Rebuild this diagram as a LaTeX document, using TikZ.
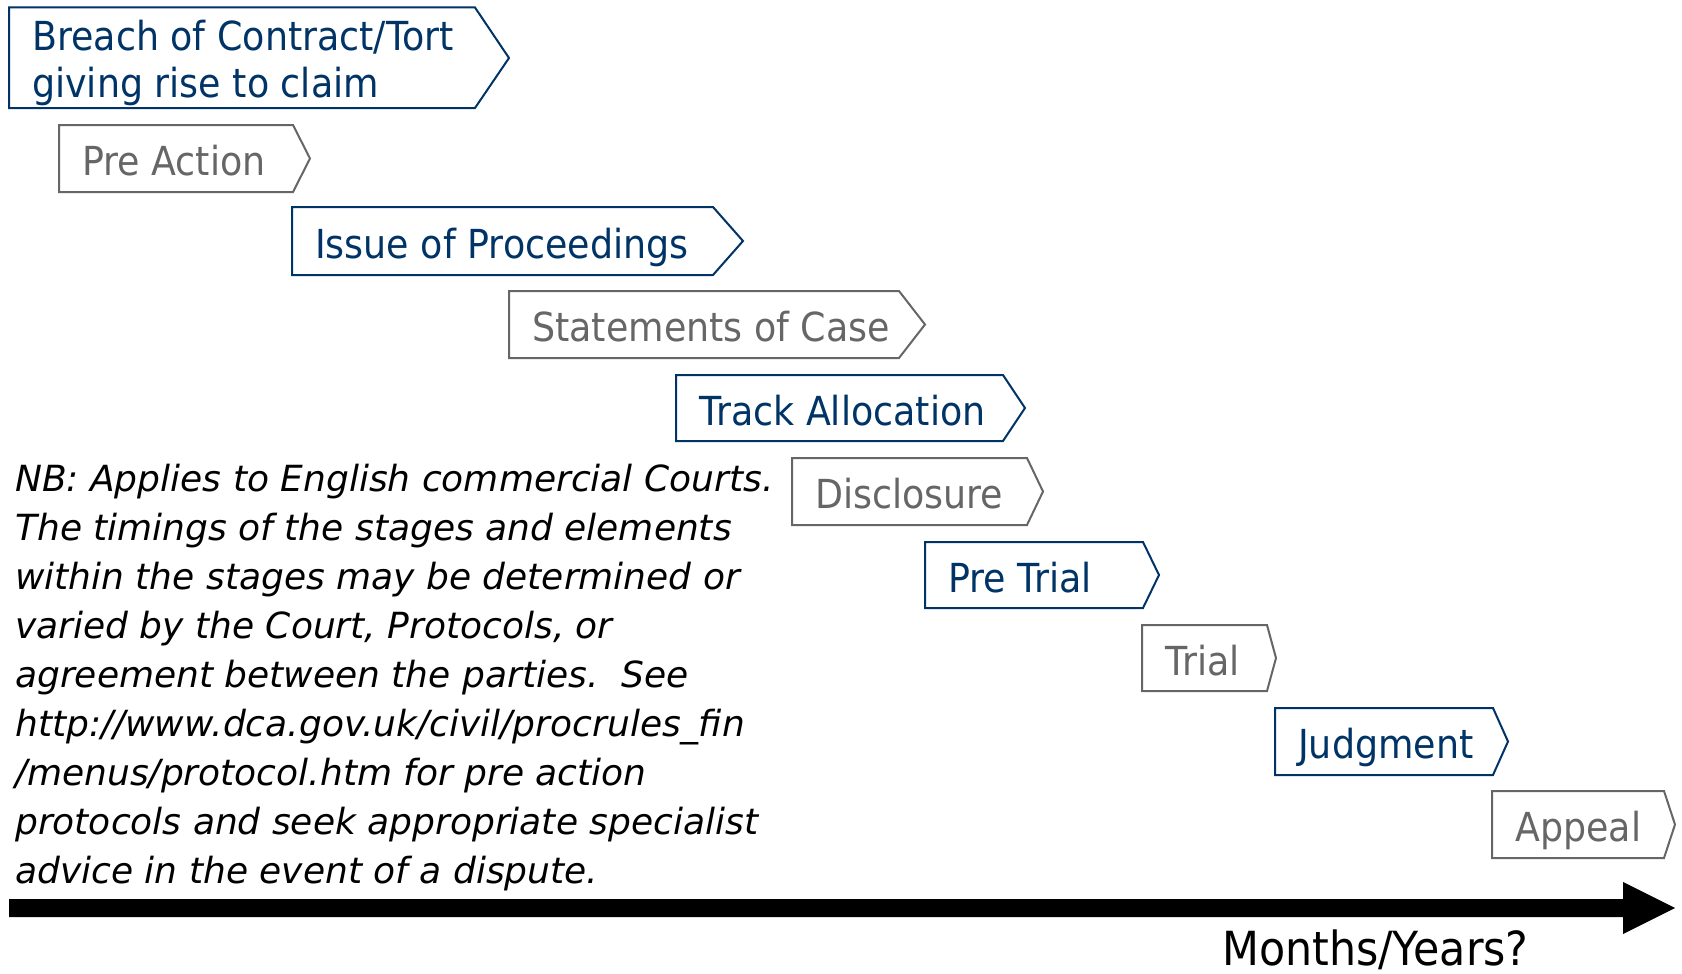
\documentclass[tikz,border=0pt]{standalone}
\usepackage{fontspec}
\usetikzlibrary{calc}
\newfontfamily\tahlike[FakeStretch=0.91]{DejaVu Sans}
\newfontfamily\notefont{DejaVu Sans}
\definecolor{navy}{HTML}{003366}
\definecolor{slate}{HTML}{666666}

% one stage of the timeline: outline pentagon plus its label
% #1 name, #2 colour set (blue/grey), #3 left, #4 top, #5 end of flat part, #6 tip, #7 bottom, #8 label
\newcommand{\stage}[8]{%
  \draw[#2box] (#3,#4) -- (#5,#4) -- (#6,{(#4+#7)/2}) -- (#5,#7) -- (#3,#7) -- cycle;
  \node[#2txt] (#1) at ({#3+23},{(#4+#7)/2+17}) {#8};
}

\begin{document}
\begin{tikzpicture}[x=1pt,y=-1pt,
  outline/.style={line width=2pt,line join=miter},
  bluebox/.style={outline,draw=navy},
  greybox/.style={outline,draw=slate},
  labeltext/.style={anchor=base west,inner sep=0pt,font=\tahlike\fontsize{40}{47}\selectfont},
  bluetxt/.style={labeltext,text=navy},
  greytxt/.style={labeltext,text=slate}]
\useasboundingbox (0,0) rectangle (1682,974);

% first stage, two lines of text (base anchor sits on the last line)
\draw[bluebox] (9,7.5) -- (475,7.5) -- (509,58) -- (475,108) -- (9,108) -- cycle;
\node[bluetxt,align=left] (breach) at (32,97) {Breach of Contract/Tort\\giving rise to claim};

\stage{preaction}{grey}{59}{125}{293}{310}{192}{Pre Action}
\stage{issue}{blue}{292}{207}{713}{743}{275}{Issue of Proceedings}
\stage{statements}{grey}{509}{291}{899}{925}{358}{Statements of Case}
\stage{track}{blue}{676}{375}{1003}{1025}{441}{Track Allocation}
\stage{disclosure}{grey}{792}{458}{1027}{1043}{525}{Disclosure}
\stage{pretrial}{blue}{925}{542}{1143}{1159}{608}{Pre Trial}
\stage{trial}{grey}{1142}{625}{1267}{1276}{691}{Trial}
\stage{judgment}{blue}{1275}{708}{1493}{1508}{775}{Judgment}
\stage{appeal}{grey}{1492}{791}{1664}{1675}{858}{Appeal}

% explanatory note
\node[anchor=north west,inner sep=0pt,align=left,
      font=\notefont\itshape\fontsize{36}{49}\selectfont] (note) at (15,463.5)
 {NB: Applies to English commercial Courts.\\
  The timings of the stages and elements\\
  within the stages may be determined or\\
  varied by the Court, Protocols, or\\
  agreement between the parties.\ \ See\\
  http://www.dca.gov.uk/civil/procrules\_fin\\
  /menus/protocol.htm for pre action\\
  protocols and seek appropriate specialist\\
  advice in the event of a dispute.};

% time axis
\coordinate (t0) at (9,908);
\coordinate (t1) at (1675,908);
\fill[black] ($(t0)+(0,-9)$) -- ($(t1)+(-52,-9)$) -- ($(t1)+(-52,-26)$) -- (t1)
  -- ($(t1)+(-52,26)$) -- ($(t1)+(-52,9)$) -- ($(t0)+(0,9)$) -- cycle;
\node[anchor=base west,inner sep=0pt,font=\tahlike\fontsize{47}{56}\selectfont] (axislabel)
  at (1222,965) {Months/Years?};
\end{tikzpicture}
\end{document}
